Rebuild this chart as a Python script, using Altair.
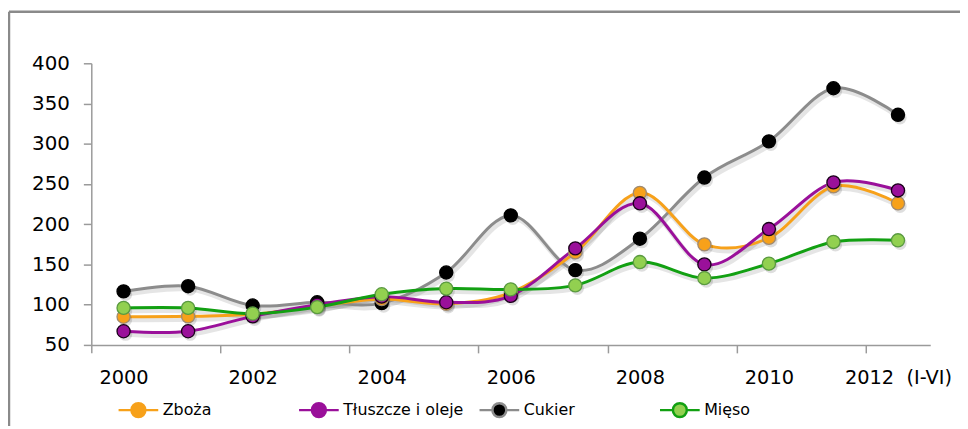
import altair as alt
import pandas as pd

years = list(range(2000, 2013))
series_names = ["Zboża", "Tłuszcze i oleje", "Cukier", "Mięso"]
zboza = [85, 85.5, 88, 98, 107, 101, 115, 165, 239, 175, 183, 247, 226]
tluszcze = [67, 67, 85.5, 100, 110, 103, 111, 170, 226, 150, 194, 252, 242]
cukier = [116.5, 123, 99, 103, 102, 140, 211, 143, 182, 258, 303, 369, 336]
mieso = [96, 96, 89, 97, 113, 120, 119, 124, 153, 133, 151, 178, 180]

label_years = [2000, 2002, 2004, 2006, 2008, 2010, 2012]
tick_bounds = [1999.5, 2001.5, 2003.5, 2005.5, 2007.5, 2009.5, 2011.5]
y_ticks = [50, 100, 150, 200, 250, 300, 350, 400]

line_colors = ["#F7A11A", "#9A109A", "#8C8C8C", "#12A012"]
fill_colors = ["#F7A11A", "#9A109A", "#000000", "#92D050"]
edge_colors = ["#A08A70", "#1A001A", "#000000", "#5A9A40"]

draw_order = ["Cukier", "Zboża", "Tłuszcze i oleje", "Mięso"]
vals = {"Zboża": zboza, "Tłuszcze i oleje": tluszcze, "Cukier": cukier, "Mięso": mieso}
rows = []
for s in draw_order:
    for yr, v in zip(years, vals[s]):
        rows.append({"rok": yr, "wartosc": v, "seria": s})
df = pd.DataFrame(rows)

W, H = 846, 284
FONT = "DejaVu Sans"
LEG_X, LEG_Y = 26, 328

xscale = alt.Scale(domain=[1999.5, 2012.5], nice=False, zero=False)
yscale = alt.Scale(domain=[50, 400], nice=False, zero=False)

yaxis = alt.Axis(values=y_ticks, tickSize=8, tickColor="#9a9a9a",
                 domainColor="#9a9a9a", grid=False, title=None,
                 labelFont=FONT, labelFontSize=20, labelColor="#000000",
                 labelPadding=14, domainWidth=1.5, tickWidth=1.5)
Y = alt.Y("wartosc:Q", scale=yscale, axis=yaxis)

base = alt.Chart(df)

legend_common = dict(
    title=None, orient="none", legendX=LEG_X, legendY=LEG_Y,
    direction="horizontal", columns=4, gridAlign="all", columnPadding=10,
    symbolSize=1600, labelFont=FONT, labelFontSize=16, labelOffset=3, labelLimit=300,
    labelColor="#000000",
)

shadow = base.mark_line(interpolate="cardinal", strokeWidth=5, color="#000000",
                        opacity=0.1, xOffset=2, yOffset=3).encode(
    x=alt.X("rok:Q", scale=xscale, axis=None),
    y=Y,
    detail="seria:N",
)

lines = base.mark_line(interpolate="cardinal", strokeWidth=3).encode(
    x=alt.X("rok:Q", scale=xscale,
            axis=alt.Axis(values=tick_bounds, labels=False, ticks=True, tickSize=8,
                          tickColor="#9a9a9a", domainColor="#9a9a9a", grid=False,
                          title=None, orient="bottom", domainWidth=1.5, tickWidth=1.5)),
    y=Y,
    color=alt.Color("seria:N",
                    scale=alt.Scale(domain=series_names, range=line_colors),
                    legend=alt.Legend(
                        symbolType="M-1,0L-0.35,0M0.35,0L1,0M-0.35,0A0.35,0.35,0,1,1,0.35,0A0.35,0.35,0,1,1,-0.35,0Z",
                        symbolStrokeWidth=2.5, symbolFillColor="transparent",
                        **legend_common)),
    detail="seria:N",
)

xlabels = base.mark_point(opacity=0).encode(
    x=alt.X("rok:Q", scale=xscale,
            axis=alt.Axis(values=label_years, ticks=False, domain=False, grid=False,
                          title=None, orient="bottom", labelFont=FONT, labelFontSize=19.5,
                          labelColor="#000000", labelPadding=24, format="d",
                          labelExpr="datum.value == 2012 ? '2012\u00a0\u00a0(I-VI)' : datum.label")),
    y=Y,
)

pshadow = base.mark_circle(size=180, color="#000000", opacity=0.13, xOffset=2, yOffset=3).encode(
    x=alt.X("rok:Q", scale=xscale, axis=None),
    y=Y,
)

points = base.mark_point(filled=True, size=175, strokeWidth=1.3, opacity=1).encode(
    x=alt.X("rok:Q", scale=xscale, axis=None),
    y=Y,
    fill=alt.Fill("seria:N", scale=alt.Scale(domain=series_names, range=fill_colors),
                  legend=alt.Legend(
                      symbolType="M-0.32,0A0.32,0.32,0,1,1,0.32,0A0.32,0.32,0,1,1,-0.32,0Z",
                      symbolStrokeWidth=0, symbolOpacity=1,
                      **legend_common)),
    stroke=alt.Stroke("seria:N", scale=alt.Scale(domain=series_names, range=edge_colors), legend=None),
)

frame_df = pd.DataFrame({"a": [0]})
frame_top = alt.Chart(frame_df).mark_rule(color="#8a8a8a", strokeWidth=2.5).encode(
    x=alt.value(-83), x2=alt.value(W + 40), y=alt.value(-52))
frame_left = alt.Chart(frame_df).mark_rule(color="#8a8a8a", strokeWidth=2.5).encode(
    x=alt.value(-83), y=alt.value(-52), y2=alt.value(H + 90))

chart = alt.layer(frame_top, frame_left, shadow, lines, xlabels, pshadow, points).resolve_axis(
    x="independent"
).properties(
    width=W, height=H,
    autosize=alt.AutoSizeParams(type="none"),
    padding={"left": 84, "top": 54, "right": 30, "bottom": 80},
    background="#ffffff",
).configure_view(stroke=None)

chart.save("out.html", embed_options={"renderer": "svg", "actions": False})
